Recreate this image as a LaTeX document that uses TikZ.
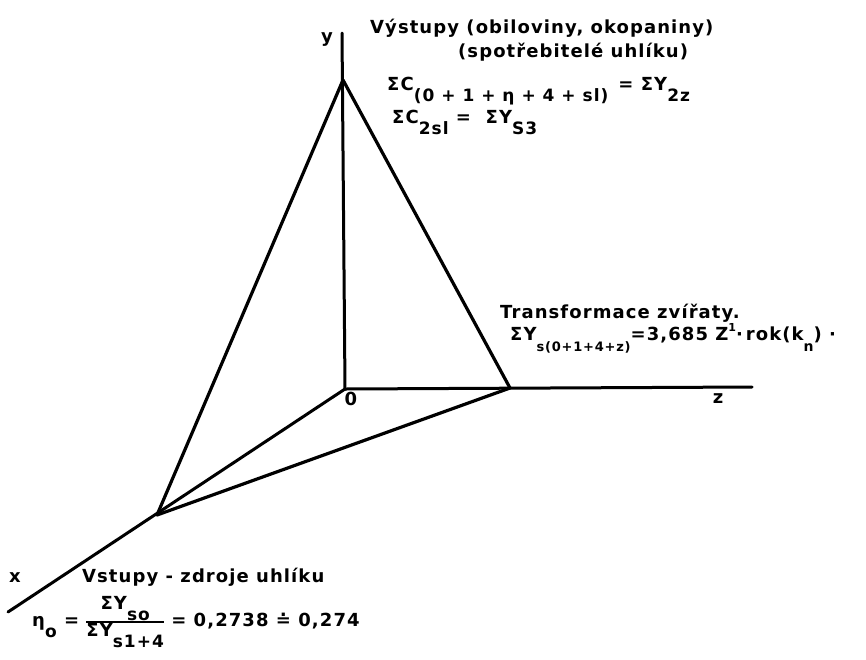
\documentclass[tikz,border=0pt]{standalone}
\usepackage{fontspec}
\setmainfont{DejaVu Sans}[LetterSpace=6]
\usetikzlibrary{positioning}
\tikzset{
  axis/.style ={line width=3pt,line cap=round},
  edge/.style ={line width=3.2pt,line cap=round,line join=round},
  txt/.style  ={inner sep=0pt,anchor=base west,font=\bfseries\fontsize{18}{20}\selectfont},
  axlbl/.style={inner sep=0pt,font=\bfseries\fontsize{18}{20}\selectfont},
}
\newcommand{\lo}[2][17]{\raisebox{-0.62em}{\fontsize{#1}{#1}\selectfont #2}}
\setlength{\arrayrulewidth}{1.8pt}

\begin{document}
\begin{tikzpicture}[x=1pt,y=-1pt]
  \useasboundingbox[fill=white] (0,0) rectangle (866,659);
  % corners of the pyramid
  \coordinate (O) at (345,389);  \coordinate (A) at (343,80);
  \coordinate (Z) at (510,388);  \coordinate (X) at (157,515);
  % free ends of the axes
  \coordinate (yend) at (342,33); \coordinate (zend) at (752,387); \coordinate (xend) at (8,612);
  \draw[axis](O)--(yend); \draw[axis](O)--(zend); \draw[axis](O)--(xend);
  \draw[edge](A)--(X)--(Z)--cycle;
  \node[axlbl](ly) at (327,40){y};   \node[axlbl](lz) at (718,399){z};
  \node[axlbl](lx) at (15,578){x};   \node[axlbl](lo) at (351,399){0};
  % outputs
  \node[txt](out1) at (370,33){Výstupy (obiloviny, okopaniny)};
  \node[txt](out2) at (458,57){(spotřebitelé uhlíku)};
  \node[txt](out3) at (387,90){ΣC\lo{(0 + 1 + η + 4 + sl)}\hspace{10pt}= ΣY\lo{2z}};
  \node[txt](out4) at (392,123){ΣC\lo{2sl} = \ ΣY\lo{S3}};
  % transformation
  \node[txt](tr1) at (500,318){Transformace zvířaty.};
  \node[txt](tr2) at (510,340){ΣY\lo[13]{s(0+1+4+z)}=3,685 Z\raisebox{0.5em}{\fontsize{11}{11}\selectfont 1}·\,rok(k\lo[14]{n}) ·};
  % inputs
  \node[txt](in1) at (82,582){Vstupy - zdroje uhlíku};
  \node[txt](in2) at (32,626){η\lo{o} = \begin{tabular}{@{}c@{}}ΣY\lo{so}\\[2pt]\hline ΣY\lo{s1+4}\end{tabular} = 0,2738 ≐ 0,274};
\end{tikzpicture}
\end{document}
